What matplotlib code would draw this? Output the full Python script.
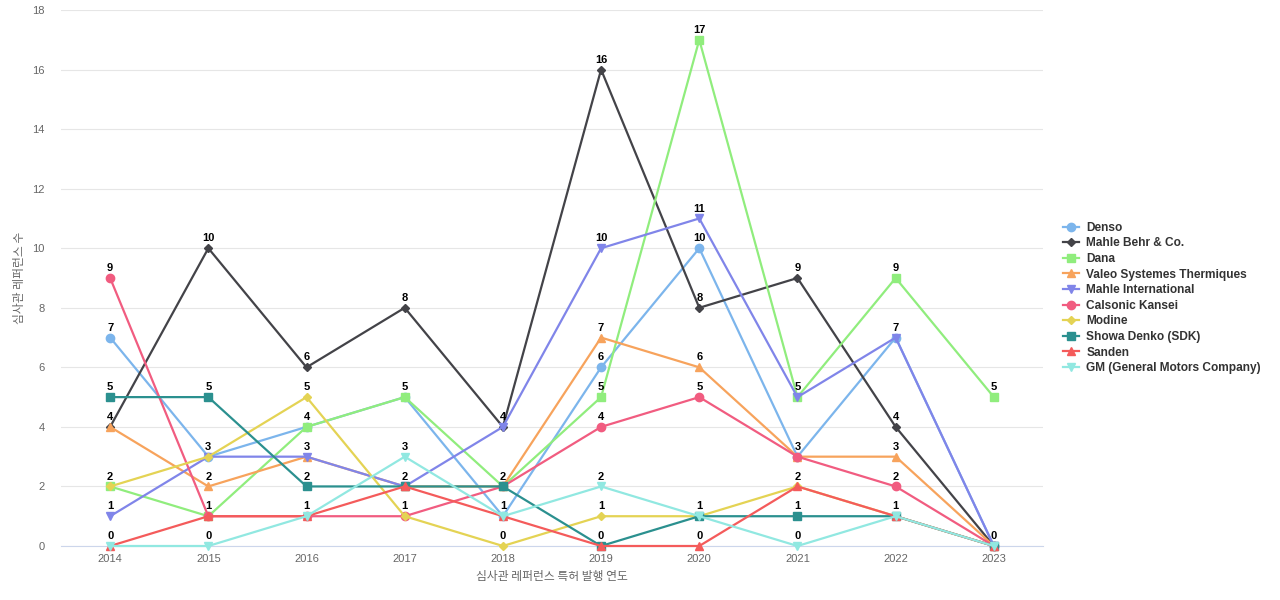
import numpy as np
import matplotlib.pyplot as plt

plt.rcParams['font.family'] = ['Liberation Sans', 'Noto Sans CJK KR', 'DejaVu Sans']

years = ['2014', '2015', '2016', '2017', '2018', '2019', '2020', '2021', '2022', '2023']

denso       = [7, 3, 4, 5, 1, 6, 10, 3, 7, 0]
mahle_behr  = [4, 10, 6, 8, 4, 16, 8, 9, 4, 0]
dana        = [2, 1, 4, 5, 2, 5, 17, 5, 9, 5]
valeo       = [4, 2, 3, 2, 2, 7, 6, 3, 3, 0]
mahle_intl  = [1, 3, 3, 2, 4, 10, 11, 5, 7, 0]
calsonic    = [9, 1, 1, 1, 2, 4, 5, 3, 2, 0]
modine      = [2, 3, 5, 1, 0, 1, 1, 2, 1, 0]
showa       = [5, 5, 2, 2, 2, 0, 1, 1, 1, 0]
sanden      = [0, 1, 1, 2, 1, 0, 0, 2, 1, 0]
gm          = [0, 0, 1, 3, 1, 2, 1, 0, 1, 0]

names = ['Denso', 'Mahle Behr & Co.', 'Dana', 'Valeo Systemes Thermiques',
         'Mahle International', 'Calsonic Kansei', 'Modine', 'Showa Denko (SDK)',
         'Sanden', 'GM (General Motors Company)']
series = [denso, mahle_behr, dana, valeo, mahle_intl, calsonic, modine, showa, sanden, gm]

colors = ['#7cb5ec', '#434348', '#90ed7d', '#f7a35c', '#8085e9',
          '#f15c80', '#e4d354', '#2b908f', '#f45b5b', '#91e8e1']
markers = ['o', 'D', 's', '^', 'v', 'o', 'D', 's', '^', 'v']
msizes = [6, 4.5, 6, 5.5, 5.5, 6, 4.5, 6, 5.5, 5.5]

fig = plt.figure(figsize=(12.8, 6.0), dpi=100)
ax = fig.add_axes([0.0477, 0.09, 0.7671, 0.8933])

x = np.arange(len(years))
for vals, name, c, m, ms in zip(series, names, colors, markers, msizes):
    ax.plot(x, vals, color=c, lw=1.6, marker=m, markersize=ms, label=name, zorder=3, clip_on=False)

# one label per spot, overlapping ones are hidden like in the original
seen = set()
for vals in series:
    for xi, v in zip(x, vals):
        if (xi, v) in seen:
            continue
        seen.add((xi, v))
        ax.annotate(str(v), (xi, v), xytext=(0, 3.5), textcoords='offset points',
                    ha='center', va='bottom', fontsize=8, fontweight='bold', color='black',
                    zorder=5)

ax.set_xlim(-0.5, len(years) - 0.5)
ax.set_ylim(0, 18)
ax.set_yticks(range(0, 19, 2))
ax.set_xticks(x)
ax.set_xticklabels(years)
ax.tick_params(axis='both', length=0, labelsize=8, colors='#666666', pad=6)
ax.tick_params(axis='y', pad=12)
ax.grid(axis='y', color='#e6e6e6', lw=0.8, zorder=0)
for s in ['top', 'right', 'left']:
    ax.spines[s].set_visible(False)
ax.spines['bottom'].set_color('#ccd6eb')
ax.set_axisbelow(True)

ax.set_xlabel('심사관 레퍼런스 특허 발행 연도', fontsize=8.5, color='#666666',
              family=['Noto Sans CJK KR'])
ax.set_ylabel('심사관 레퍼런스 수', fontsize=8.5, color='#666666',
              family=['Noto Sans CJK KR'])
ax.xaxis.set_label_coords(0.5, -0.045)
ax.yaxis.set_label_coords(-0.0428, 0.5)
ax.yaxis.label.set_va('center')

leg = ax.legend(loc='center left', bbox_to_anchor=(1.016, 0.4627), frameon=False,
                prop={'size': 8.6, 'weight': 'bold'}, handlelength=1.3, labelspacing=0.3,
                handletextpad=0.6, borderaxespad=0)
for t in leg.get_texts():
    t.set_color('#333333')

fig.savefig('out.png', dpi=100)
